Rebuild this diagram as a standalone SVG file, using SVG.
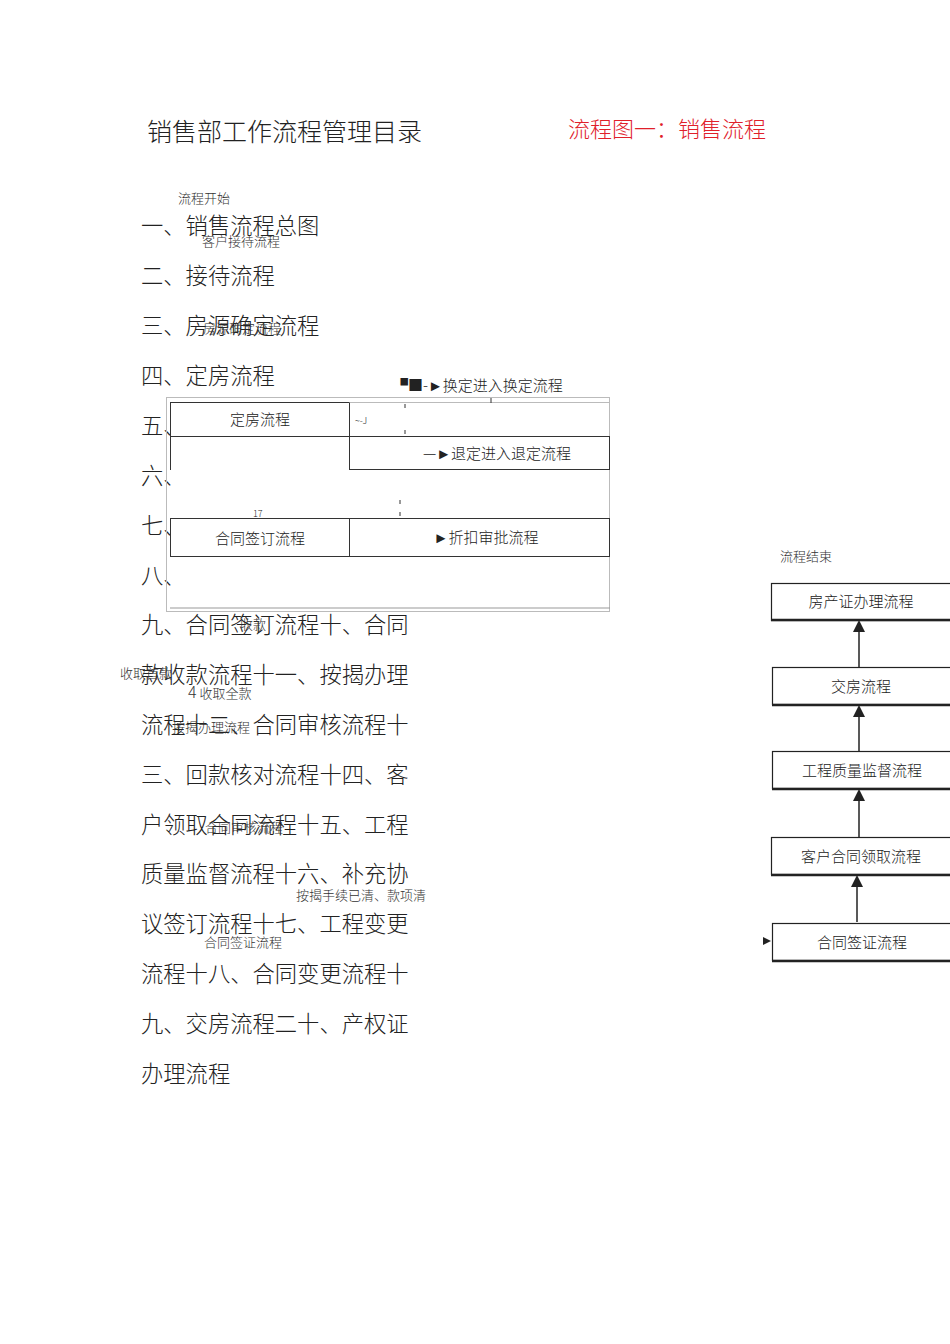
<svg xmlns="http://www.w3.org/2000/svg" width="950" height="1344" viewBox="0 0 950 1344">
<style>
text{font-family:"Noto Sans CJK SC","Liberation Serif",serif;fill:#222;font-weight:300}
.big{font-size:22.3px}
.sm{font-size:13px;fill:#333}
.md{font-size:15px}
.b{fill:#fff;stroke:#333;stroke-width:1}
.bx{fill:#fff;stroke:#222;stroke-width:1.2}
.sh{stroke:#222;stroke-width:2.5}
</style>
<defs><marker id="ah" markerWidth="8" markerHeight="8" refX="4" refY="4" orient="auto"><path d="M0,0L8,4L0,8z" fill="#222"/></marker></defs>
<rect width="950" height="1344" fill="#fff"/>
<text x="147" y="141" style="font-size:25px">销售部工作流程管理目录</text>
<text x="568" y="137" style="font-size:22px;fill:#e0202a">流程图一：销售流程</text>
<text class="sm" x="178" y="203">流程开始</text>
<g id="toc">
<text class="big" x="141" y="234">一、销售流程总图</text>
<text class="big" x="141" y="284">二、接待流程</text>
<text class="big" x="141" y="334">三、房源确定流程</text>
<text class="big" x="141" y="384">四、定房流程</text>
<text class="big" x="141" y="434">五、</text>
<text class="big" x="141" y="484">六、</text>
<text class="big" x="141" y="534">七、</text>
<text class="big" x="141" y="584">八、</text>
<text class="big" x="141" y="633">九、合同签订流程十、合同</text>
<text class="big" x="141" y="683">款收款流程十一、按揭办理</text>
<text class="big" x="141" y="733">流程十二、合同审核流程十</text>
<text class="big" x="141" y="783">三、回款核对流程十四、客</text>
<text class="big" x="141" y="833">户领取合同流程十五、工程</text>
<text class="big" x="141" y="882">质量监督流程十六、补充协</text>
<text class="big" x="141" y="932">议签订流程十七、工程变更</text>
<text class="big" x="141" y="982">流程十八、合同变更流程十</text>
<text class="big" x="141" y="1032">九、交房流程二十、产权证</text>
<text class="big" x="141" y="1082">办理流程</text>
</g>
<text class="sm" x="202" y="246">客户接待流程</text>
<text class="sm" x="203" y="333">房源确定流程</text>
<text class="sm" x="240" y="629">收款</text>
<text class="sm" x="120" y="678">收取首款</text>
<text class="sm" x="188" y="698"><tspan style="font-size:16px">4</tspan> 收取全款</text>
<text class="sm" x="172" y="732">按揭办理流程</text>
<text class="sm" x="205" y="832">合同审核流程</text>
<text class="sm" x="296" y="900">按揭手续已清、款项清</text>
<text class="sm" x="204" y="947">合同签证流程</text>
<g id="table">
<rect x="166.5" y="397.5" width="443" height="214" fill="none" stroke="#bbb"/>
<line x1="170" y1="608" x2="610" y2="608" stroke="#999"/>
<g id="n1"><rect class="b" x="170.5" y="402.5" width="179" height="34"/><text class="md" x="260" y="425" text-anchor="middle">定房流程</text></g>
<g id="n2"><rect class="b" x="349.5" y="436.5" width="260" height="33"/><text class="md" x="497" y="459" text-anchor="middle">—►退定进入退定流程</text></g>
<line x1="170.5" y1="436" x2="170.5" y2="470" stroke="#333"/>
<line x1="349.5" y1="402.5" x2="609" y2="402.5" stroke="#bbb"/>
<g id="n3"><rect class="b" x="170.5" y="518.5" width="179" height="38"/><text class="md" x="260" y="544" text-anchor="middle">合同签订流程</text></g>
<g id="n4"><rect class="b" x="349.5" y="518.5" width="260" height="38"/><text class="md" x="486" y="543" text-anchor="middle">►折扣审批流程</text></g>
<text class="md" x="393" y="391">▝■-►换定进入换定流程</text>
<text x="253" y="517" style="font-size:9px">17</text>
<text x="355" y="424" style="font-size:9px">~-J</text>
<line x1="405" y1="404" x2="405" y2="408" stroke="#333"/><line x1="405" y1="430" x2="405" y2="434" stroke="#333"/>
<line x1="491" y1="398" x2="491" y2="403" stroke="#333"/>
<line x1="400" y1="500" x2="400" y2="504" stroke="#333"/><line x1="400" y1="512" x2="400" y2="516" stroke="#333"/>
</g>
<text class="sm" x="780" y="561">流程结束</text>
<g id="r1"><rect class="bx" x="771.5" y="583.5" width="180" height="37"/><line class="sh" x1="771" y1="620" x2="950" y2="620"/><text class="md" x="861" y="607" text-anchor="middle">房产证办理流程</text></g>
<g id="r2"><rect class="bx" x="772.5" y="667.5" width="180" height="37"/><line class="sh" x1="772" y1="705" x2="950" y2="705"/><text class="md" x="861" y="692" text-anchor="middle">交房流程</text></g>
<g id="r3"><rect class="bx" x="772.5" y="751.5" width="180" height="37"/><line class="sh" x1="772" y1="789" x2="950" y2="789"/><text class="md" x="862" y="776" text-anchor="middle">工程质量监督流程</text></g>
<g id="r4"><rect class="bx" x="771.5" y="837.5" width="180" height="37"/><line class="sh" x1="771" y1="875" x2="950" y2="875"/><text class="md" x="861" y="862" text-anchor="middle">客户合同领取流程</text></g>
<g id="r5"><rect class="bx" x="772.5" y="923.5" width="180" height="37"/><line class="sh" x1="772" y1="961" x2="950" y2="961"/><text class="md" x="862" y="948" text-anchor="middle">合同签证流程</text></g>
<g id="connectors" stroke="#222" stroke-width="1.5">
<line x1="859" y1="667" x2="859" y2="626" marker-end="url(#ah)"/>
<line x1="859" y1="751" x2="859" y2="711" marker-end="url(#ah)"/>
<line x1="859" y1="837" x2="859" y2="795" marker-end="url(#ah)"/>
<line x1="857" y1="922" x2="857" y2="881" marker-end="url(#ah)"/>
<path d="M763,937L771,941L763,945z" fill="#222" stroke="none"/>
</g>
</svg>
